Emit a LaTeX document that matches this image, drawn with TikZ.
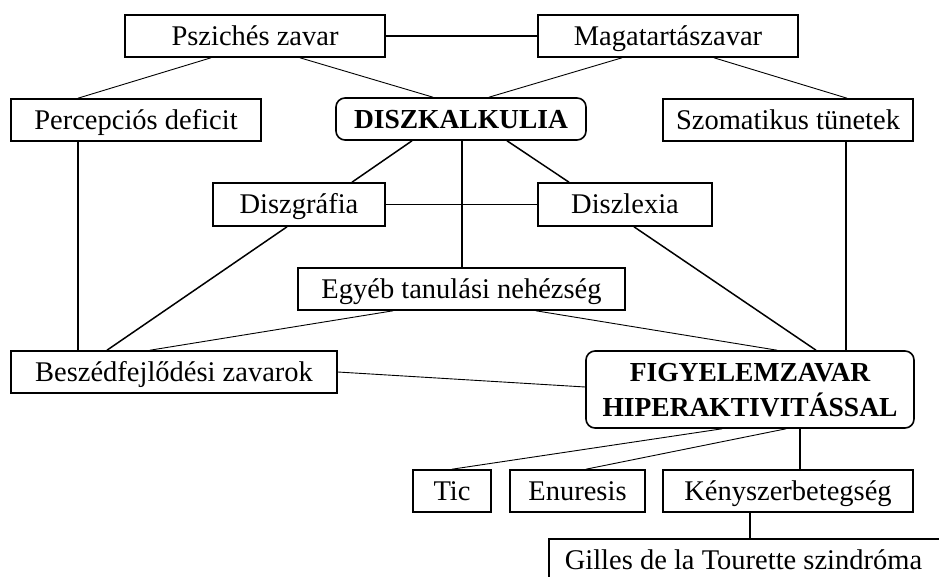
\documentclass[tikz,border=0pt]{standalone}
\usepackage{fontspec}
\setmainfont{Liberation Serif}
\begin{document}
\begin{tikzpicture}[x=1pt,y=-1pt,
  box/.style={draw, line width=1.6pt, inner sep=0pt, align=center, text height=20pt, text depth=1.5pt, font=\fontsize{28.5}{35}\selectfont},
  rbox/.style={box, rounded corners=9pt, font=\fontsize{27.5}{35}\selectfont\bfseries},
  thin/.style={line width=0.9pt},
  thick/.style={line width=1.5pt}]
\useasboundingbox (0,0) rectangle (939,577);
\clip (0,0) rectangle (939,577);
\node[box, minimum width=260pt, minimum height=42pt] (psz) at (255,36) {Pszichés zavar};
\node[box, minimum width=260pt, minimum height=42pt] (mag) at (668,36) {Magatartászavar};
\node[box, minimum width=250pt, minimum height=42pt] (perc) at (136,120) {Percepciós deficit};
\node[rbox, minimum width=250pt, minimum height=42pt] (disk) at (461,119) {DISZKALKULIA};
\node[box, minimum width=250pt, minimum height=42pt] (szom) at (788,120) {Szomatikus tünetek};
\node[box, minimum width=172pt, minimum height=43pt] (dgraf) at (299,204.5) {Diszgráfia};
\node[box, minimum width=174pt, minimum height=43pt] (dlex) at (625,204.5) {Diszlexia};
\node[box, minimum width=327pt, minimum height=42pt] (egyeb) at (461.5,289) {Egyéb tanulási nehézség};
\node[box, minimum width=326pt, minimum height=42pt] (besz) at (174,372) {Beszédfejlődési zavarok};
\node[rbox, minimum width=328pt, minimum height=77pt, text height=55pt, text depth=1.5pt] (figy) at (750,389.5) {FIGYELEMZAVAR\\HIPERAKTIVITÁSSAL};
\node[box, minimum width=78pt, minimum height=42pt] (tic) at (452,491) {Tic};
\node[box, minimum width=135pt, minimum height=42pt] (enur) at (577.5,491) {Enuresis};
\node[box, minimum width=250pt, minimum height=42pt] (keny) at (788,491) {Kényszerbetegség};
\node[box, anchor=north west, minimum height=42pt, inner xsep=16pt] (gil) at (548,538) {\makebox[380pt][l]{Gilles de la Tourette szindróma}};

\draw[thick] (psz.east) -- (mag.west);
\draw[thin] ([xshift=-44pt]psz.south) -- ([xshift=-58pt]perc.north);
\draw[thin] ([xshift=45pt]psz.south) -- ([xshift=-28pt]disk.north);
\draw[thin] ([xshift=-46pt]mag.south) -- ([xshift=28pt]disk.north);
\draw[thin] ([xshift=46pt]mag.south) -- ([xshift=59pt]szom.north);
\draw[thick] ([xshift=-58pt]perc.south) -- ([xshift=-96pt]besz.north);
\draw[thick] ([xshift=-49pt]disk.south) -- ([xshift=53pt]dgraf.north);
\draw[thick] ([xshift=1pt]disk.south) -- ([xshift=0.5pt]egyeb.north);
\draw[thick] ([xshift=46pt]disk.south) -- ([xshift=-56pt]dlex.north);
\draw[thick] (dgraf.east) -- (dlex.west);
\draw[thick] ([xshift=58pt]szom.south) -- ([xshift=96pt]figy.north);
\draw[thick] ([xshift=-12pt]dgraf.south) -- ([xshift=-67pt]besz.north);
\draw[thin] ([xshift=-68.5pt]egyeb.south) -- ([xshift=-24pt]besz.north);
\draw[thin] ([xshift=74.5pt]egyeb.south) -- ([xshift=27pt]figy.north);
\draw[thick] ([xshift=9pt]dlex.south) -- ([xshift=66pt]figy.north);
\draw[thin] (besz.east) -- ([yshift=2.5pt]figy.west);
\draw[thin] ([xshift=-28pt]figy.south) -- (tic.north);
\draw[thin] ([xshift=36pt]figy.south) -- ([xshift=8.5pt]enur.north);
\draw[thick] ([xshift=50pt]figy.south) -- ([xshift=12pt]keny.north);
\draw[thick] ([xshift=-38pt]keny.south) -- ([xshift=202pt]gil.north west);
\end{tikzpicture}
\end{document}
